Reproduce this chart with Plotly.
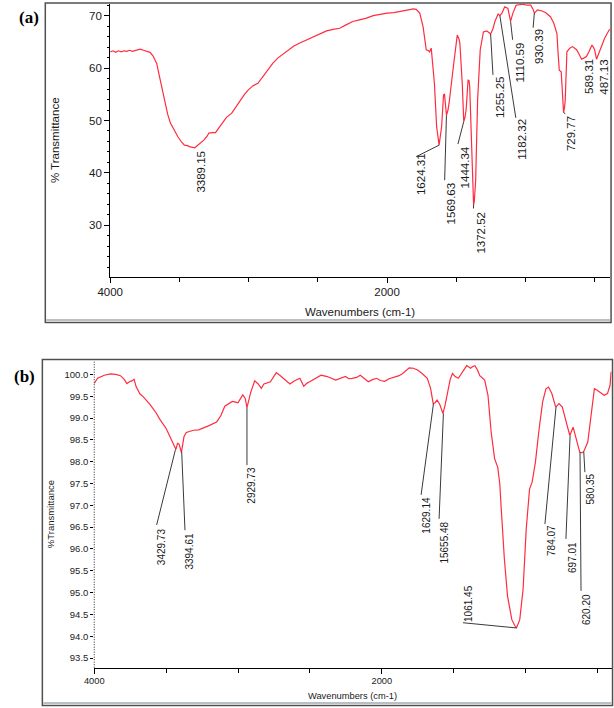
import plotly.graph_objects as go

# ---------------- data: panel (a) ----------------
wn_a = [4000, 3980, 3960, 3940, 3920, 3900, 3880, 3860, 3840, 3800, 3783, 3760, 3730, 3712, 3690,
        3664, 3645, 3629, 3606, 3585, 3565, 3540, 3511, 3485, 3464, 3440, 3428, 3389, 3360, 3322,
        3300, 3287, 3260, 3239, 3215, 3193, 3160, 3122, 3090, 3062, 3030, 3004, 2970, 2933, 2910,
        2885, 2855, 2826, 2790, 2744, 2710, 2673, 2630, 2579, 2530, 2484, 2437, 2390, 2342, 2300,
        2248, 2200, 2154, 2100, 2050, 2000, 1950, 1900, 1850, 1810, 1790, 1764, 1740, 1717, 1700,
        1693, 1681, 1670, 1658, 1642, 1624, 1606, 1592, 1585, 1571, 1560, 1552, 1521, 1505, 1493,
        1480, 1474, 1457, 1446, 1438, 1429, 1415, 1408, 1403, 1387, 1375, 1370, 1360, 1346, 1327,
        1304, 1280, 1265, 1252, 1235, 1221, 1198, 1185, 1170, 1150, 1127, 1117, 1108, 1091, 1068,
        1040, 1020, 990, 962, 945, 936, 914, 880, 856, 820, 796, 773, 765, 756, 742,
        733, 725, 718, 713, 701, 680, 661, 631, 610, 595, 580, 560, 540, 520, 510,
        501, 487, 475, 454, 430, 410, 392]
t_a = [63.1, 63.3, 63.0, 63.3, 63.1, 63.3, 63.2, 63.4, 63.2, 63.4, 63.6, 63.4, 63.2, 63.0, 62.3,
       60.9, 58.5, 56.5, 53.3, 51.2, 49.5, 48.2, 46.9, 45.9, 45.3, 45.2, 45.0, 44.8, 45.4, 46.3,
       47.0, 47.6, 47.7, 47.7, 48.6, 49.5, 50.6, 51.4, 52.7, 53.9, 55.0, 55.8, 56.6, 57.1, 57.9,
       58.7, 59.9, 60.9, 61.9, 62.8, 63.6, 64.2, 64.8, 65.4, 66.0, 66.6, 67.1, 67.4, 67.6, 68.2,
       68.9, 69.2, 69.5, 70.0, 70.3, 70.5, 70.6, 70.8, 71.0, 71.3, 71.2, 70.5, 67.9, 63.5, 63.3,
       63.1, 63.8, 60.5, 57.1, 48.8, 45.3, 48.8, 54.9, 55.0, 51.0, 52.0, 53.3, 60.3, 64.5, 66.3,
       65.5, 64.7, 57.1, 49.8, 50.5, 52.0, 57.7, 57.6, 56.5, 44.4, 33.9, 34.5, 38.6, 53.9, 63.5,
       66.9, 67.1, 66.8, 66.5, 67.5, 68.9, 70.3, 70.0, 70.5, 71.7, 71.4, 70.2, 68.9, 70.5, 72.0,
       72.1, 72.2, 72.0, 72.0, 71.2, 70.5, 71.1, 70.9, 70.6, 69.8, 68.6, 66.6, 63.0, 59.6, 59.3,
       55.0, 51.5, 52.5, 53.9, 63.1, 63.8, 64.1, 63.5, 62.5, 61.7, 61.9, 62.2, 63.2, 64.4, 64.0,
       63.5, 61.7, 62.6, 64.1, 65.6, 66.6, 67.4]

# ---------------- data: panel (b) ----------------
wn_b = [4000, 3977, 3930, 3886, 3850, 3818, 3790, 3773, 3755, 3739, 3723, 3709, 3682, 3660, 3610,
        3568, 3546, 3500, 3470, 3444, 3432, 3421, 3410, 3394, 3376, 3360, 3342, 3310, 3274, 3228,
        3206, 3149, 3120, 3092, 3058, 3040, 3024, 3001, 2967, 2950, 2938, 2925, 2911, 2884, 2860,
        2838, 2820, 2775, 2750, 2734, 2710, 2684, 2660, 2639, 2610, 2590, 2570, 2543, 2520, 2502,
        2460, 2423, 2380, 2321, 2253, 2230, 2207, 2175, 2150, 2120, 2094, 2065, 2037, 2010, 1980,
        1950, 1912, 1880, 1855, 1830, 1810, 1780, 1752, 1720, 1684, 1661, 1643, 1630, 1616, 1597,
        1575, 1560, 1547, 1525, 1509, 1490, 1468, 1450, 1433, 1410, 1395, 1383, 1368, 1353, 1335,
        1319, 1285, 1262, 1240, 1216, 1194, 1180, 1171, 1148, 1126, 1096, 1075, 1064, 1041, 1018,
        996, 973, 955, 932, 909, 882, 859, 841, 818, 791, 768, 745, 715, 693, 670,
        647, 624, 610, 597, 568, 541, 522, 505, 488, 454, 431, 413, 406]
t_b = [99.79, 99.91, 99.98, 100.01, 100.00, 99.97, 99.88, 99.79, 99.83, 99.85, 99.89, 99.72, 99.55, 99.49, 99.30,
       99.11, 98.98, 98.76, 98.55, 98.36, 98.28, 98.42, 98.40, 98.21, 98.57, 98.67, 98.69, 98.72, 98.73, 98.78,
       98.82, 98.91, 99.05, 99.27, 99.35, 99.38, 99.37, 99.35, 99.53, 99.45, 99.24, 99.45, 99.60, 99.85, 99.78,
       99.68, 99.78, 99.83, 99.95, 100.04, 99.98, 99.91, 99.84, 99.78, 99.85, 99.88, 99.91, 99.73, 99.80, 99.83,
       99.90, 99.98, 99.95, 99.87, 99.95, 99.90, 99.91, 99.93, 99.98, 99.90, 99.83, 99.88, 99.91, 99.86, 99.84,
       99.90, 99.94, 99.97, 100.02, 100.10, 100.15, 100.14, 100.10, 100.02, 99.91, 99.68, 99.33, 99.35, 99.41, 99.31,
       99.10, 99.30, 99.52, 99.88, 100.02, 99.95, 99.91, 100.00, 100.10, 100.20, 100.17, 100.14, 100.18, 100.20, 100.10,
       99.97, 99.87, 99.52, 98.68, 98.07, 97.87, 97.50, 96.99, 95.77, 94.92, 94.38, 94.24, 94.19, 94.38, 95.07,
       96.46, 97.37, 97.53, 97.99, 98.68, 99.37, 99.67, 99.71, 99.56, 99.25, 99.33, 99.25, 98.87, 98.60, 98.79,
       98.49, 98.22, 98.20, 98.23, 98.45, 99.22, 99.67, 99.64, 99.60, 99.52, 99.56, 99.75, 100.06]

# peak labels (text) and the curve points they mark
labels_a = ["3389.15", "1624.31", "1569.63", "1444.34", "1372.52", "1255.25", "1182.32",
            "1110.59", "930.39", "729.77", "589.31", "487.13"]
tip_wn_a = [3389, 1624, 1571, 1446, 1375, 1252, 1185, 1108, 936, 725, 595, 487]
tip_t_a = [44.8, 45.3, 51.0, 49.8, 33.9, 66.5, 70.0, 68.9, 70.5, 51.5, 61.7, 61.7]

labels_b = ["3429.73", "3394.61", "2929.73", "1629.14", "15655.48", "1061.45",
            "784.07", "697.01", "620.20", "580.35"]
tip_wn_b = [3435, 3392, 2938, 1641, 1572, 1062, 789, 691, 622, 596]
tip_t_b = [98.28, 98.23, 99.24, 99.33, 99.10, 94.19, 99.25, 98.60, 98.22, 98.23]

# ---------------- label placement (layout, not data) ----------------
# (text centre wn, text top value, leader start wn, leader start value)
place_a = [(3346, 44.4, None, None), (1754, 44.0, 1789, 43.1), (1541, 38.3, 1584, 38.6),
           (1435, 45.3, 1488, 45.5), (1318, 32.9, 1376, 33.2), (1183, 58.7, 1235, 58.7),
           (1023, 50.5, 1070, 50.5), (1042, 65.0, 1093, 65.4), (904, 67.7, 945, 67.7),
           (676, 51.0, 712, 51.3), (546, 61.9, None, None), (433, 61.9, None, None)]
place_b = [(3532, 96.50, 3566, 96.55), (3340, 96.39, 3369, 96.43), (2909, 97.90, 2938, 97.92),
           (1690, 97.22, 1727, 97.24), (1561, 96.65, 1602, 96.69), (1397, 95.20, 1436, 94.31),
           (821, 96.57, 866, 96.57), (679, 96.19, 720, 96.23), (581, 95.00, 615, 95.04),
           (547, 97.76, 588, 97.76)]

W, H = 614, 708
RED = "#ff2b3f"
INK = "#1a1a1a"
LEAD = "#3a3a3a"
FONT = "Arial, Liberation Sans, sans-serif"
SERIF = "Liberation Serif, Times New Roman, serif"


def px(x):
    return x / W


def py(y):
    return 1 - y / H


fig = go.Figure()
fig.add_trace(go.Scatter(x=wn_a, y=t_a, mode="lines", line=dict(color=RED, width=1.2),
                         xaxis="x", yaxis="y", hoverinfo="skip", showlegend=False))
fig.add_trace(go.Scatter(x=wn_b, y=t_b, mode="lines", line=dict(color=RED, width=1.2),
                         xaxis="x2", yaxis="y2", hoverinfo="skip", showlegend=False))

shapes = []
annotations = []

# frames (dark outline with a light-grey inner edge at the bottom)
shapes.append(dict(type="rect", xref="paper", yref="paper", x0=px(33), x1=px(611), y0=py(322.5), y1=py(3),
                   line=dict(color="#505050", width=1.5)))
shapes.append(dict(type="line", xref="paper", yref="paper", x0=px(34), x1=px(610), y0=py(320), y1=py(320),
                   line=dict(color="#b8c0c4", width=2)))
shapes.append(dict(type="rect", xref="paper", yref="paper", x0=px(30), x1=px(612.5), y0=py(705.5), y1=py(359.5),
                   line=dict(color="#505050", width=1.5)))
shapes.append(dict(type="line", xref="paper", yref="paper", x0=px(31), x1=px(611.5), y0=py(703), y1=py(703),
                   line=dict(color="#b8c0c4", width=2)))
# dotted y axis of panel (b)
shapes.append(dict(type="line", xref="x2 domain", yref="y2 domain", x0=0, x1=0, y0=0, y1=1,
                   line=dict(color="#222222", width=1, dash="1px,1.5px")))

# peak labels
for lab, twn, tt, (cx, ctop, lx, ly) in zip(labels_a, tip_wn_a, tip_t_a, place_a):
    annotations.append(dict(x=cx, y=ctop, xref="x", yref="y", text=lab, textangle=-90,
                            showarrow=False, xanchor="center", yanchor="top", borderpad=0,
                            font=dict(family=FONT, size=11.5, color=INK)))
    if lx is not None:
        shapes.append(dict(type="line", xref="x", yref="y", x0=lx, y0=ly, x1=twn, y1=tt,
                           line=dict(color=LEAD, width=1)))

for lab, twn, tt, (cx, ctop, lx, ly) in zip(labels_b, tip_wn_b, tip_t_b, place_b):
    annotations.append(dict(x=cx, y=ctop, xref="x2", yref="y2", text=lab, textangle=-90,
                            showarrow=False, xanchor="center", yanchor="top", borderpad=0,
                            font=dict(family=FONT, size=10, color=INK)))
    shapes.append(dict(type="line", xref="x2", yref="y2", x0=lx, y0=ly, x1=twn, y1=tt,
                       line=dict(color=LEAD, width=1)))


def centred(x, y, text, size, family=FONT, angle=0):
    return dict(x=px(x), y=py(y), xref="paper", yref="paper", text=text, textangle=angle,
                showarrow=False, xanchor="center", yanchor="middle",
                font=dict(family=family, size=size, color=INK if family == FONT else "#000"))


# axis titles & panel letters
annotations += [
    centred(43, 140, "% Transmittance", 11.5, angle=-90),
    centred(355, 311.5, "Wavenumbers (cm-1)", 11.5),
    centred(38.5, 514.5, "%Transmittance", 9.5, angle=-90),
    centred(347, 695.5, "Wavenumbers (cm-1)", 9.3),
    centred(16, 17.5, "<b>(a)</b>", 17, family=SERIF),
    centred(12, 376, "<b>(b)</b>", 17, family=SERIF),
]

common_x = dict(tickmode="linear", tick0=0, dtick=2000, ticks="outside", ticklen=5, tickcolor="#000",
                showline=True, linecolor="#000", linewidth=1, showgrid=False, zeroline=False)

fig.update_layout(
    width=W, height=H,
    margin=dict(l=0, r=0, t=0, b=0),
    paper_bgcolor="white", plot_bgcolor="white",
    showlegend=False,
    xaxis=dict(domain=[px(99.3), px(610)], range=[4000, 389], anchor="y", ticklabelstandoff=-1,
               minor=dict(tickmode="linear", tick0=0, dtick=500, ticks="outside", ticklen=4, tickcolor="#000"),
               tickfont=dict(family=FONT, size=11.5, color=INK), **common_x),
    yaxis=dict(domain=[py(276.7), py(4)], range=[20.19, 72.23], anchor="x",
               tickmode="linear", tick0=0, dtick=10, ticks="outside", ticklen=5, tickcolor="#000",
               minor=dict(tickmode="linear", tick0=0, dtick=2, ticks="outside", ticklen=2.5, tickcolor="#000"),
               showline=True, linecolor="#000", linewidth=1, showgrid=False, zeroline=False,
               tickfont=dict(family=FONT, size=11.5, color=INK)),
    xaxis2=dict(domain=[px(83), px(611.6)], range=[4000, 402], anchor="y2", ticklabelstandoff=-1,
                minor=dict(tickmode="linear", tick0=0, dtick=500, ticks="outside", ticklen=4, tickcolor="#000"),
                tickfont=dict(family=FONT, size=9.3, color=INK), **common_x),
    yaxis2=dict(domain=[py(667.7), py(361.7)], range=[93.28, 100.29], anchor="x2",
                tickmode="linear", tick0=0, dtick=0.5, tickformat=".1f", ticks="outside", ticklen=3,
                tickcolor="#000", showline=False, showgrid=False, zeroline=False,
                tickfont=dict(family=FONT, size=9.5, color=INK)),
    shapes=shapes,
    annotations=annotations,
)

fig.write_html("out.html", config={"displayModeBar": False},
               post_script="document.body.style.margin='0';document.body.style.overflow='hidden';")
